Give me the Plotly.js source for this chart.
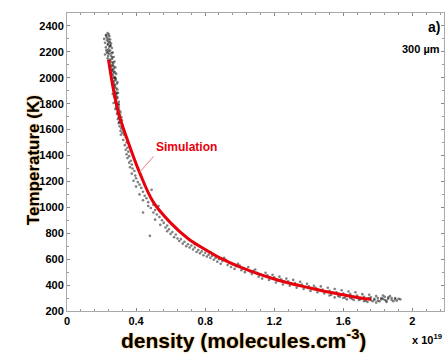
<!DOCTYPE html>
<html><head><meta charset="utf-8">
<script src="https://cdn.plot.ly/plotly-3.0.1.min.js"></script>
<style>html,body{margin:0;padding:0;overflow:hidden;background:#fff}</style>
</head><body><div id="chart"></div>
<script>
// Simulation curve (density x1e19, temperature K)
const simDensity = [0.24,0.27,0.30,0.35,0.42,0.50,0.60,0.70,0.80,0.90,1.00,1.10,1.20,1.30,1.40,1.50,1.60,1.70,1.76];
const simTemp    = [2140,1900,1720,1520,1270,1040,880,760,675,600,540,490,447,410,380,350,325,300,290];

// Experimental points [density, temperature]
const expPoints = [
[0.225,2330],[0.235,2345],[0.245,2320],[0.215,2300],[0.23,2310],[0.25,2295],[0.24,2280],[0.22,2270],[0.255,2265],[0.235,2255],
[0.245,2240],[0.225,2235],[0.26,2230],[0.24,2220],[0.25,2210],[0.23,2200],[0.265,2195],[0.245,2185],[0.22,2180],[0.255,2170],
[0.27,2160],[0.235,2150],[0.26,2145],[0.25,2130],[0.275,2125],[0.245,2110],[0.265,2100],[0.255,2085],[0.28,2080],[0.26,2065],
[0.27,2050],[0.25,2040],[0.285,2030],[0.265,2020],[0.275,2005],[0.26,1990],[0.28,1980],[0.27,1965],[0.29,1955],[0.265,1945],
[0.275,1930],[0.285,1920],[0.27,1905],[0.28,1895],[0.295,1885],[0.265,1875],[0.285,1860],[0.275,1850],[0.29,1840],[0.28,1825],
[0.30,1815],[0.27,1805],[0.29,1795],[0.285,1780],[0.30,1770],[0.28,1760],[0.295,1745],[0.31,1735],[0.29,1720],[0.30,1705],
[0.315,1695],[0.295,1680],[0.31,1665],[0.30,1650],[0.32,1640],[0.305,1625],[0.315,1610],[0.325,1600],[0.31,1590],[0.32,1575],
[0.24,2300],[0.25,2250],[0.235,2190],[0.26,2120],[0.27,2070],[0.28,2000],[0.275,1950],[0.29,1880],[0.28,1870],[0.30,1790],
[0.228,2325],[0.242,2335],[0.232,2290],[0.248,2275],[0.238,2262],[0.252,2245],[0.228,2215],[0.242,2205],[0.258,2190],[0.238,2168],
[0.262,2158],[0.248,2140],[0.268,2115],[0.258,2095],[0.27,2088],[0.262,2055],[0.278,2042],[0.268,2035],[0.272,1998],[0.282,1990],
[0.268,1975],[0.292,1968],[0.278,1940],[0.272,1915],[0.292,1910],[0.282,1880],[0.272,1860],[0.292,1850],[0.282,1812],[0.298,1800],
[0.288,1765],[0.302,1750],[0.292,1730],[0.308,1715],[0.298,1690],[0.318,1672],[0.302,1658],[0.322,1620],[0.312,1560],[0.33,1585],
[0.33,1560],[0.34,1540],[0.325,1520],[0.345,1500],[0.335,1480],[0.35,1460],[0.34,1445],[0.355,1430],[0.345,1410],[0.36,1395],
[0.35,1380],[0.37,1360],[0.36,1345],[0.375,1330],[0.365,1310],[0.38,1300],[0.39,1280],[0.375,1260],[0.395,1245],[0.40,1225],
[0.385,1205],[0.41,1195],[0.42,1175],[0.40,1160],[0.43,1150],[0.49,1135],[0.44,1120],[0.42,1100],[0.45,1090],[0.46,1070],
[0.44,1055],[0.47,1040],[0.50,1020],[0.47,1010],[0.485,995],[0.44,960],[0.51,980],[0.53,1010],[0.50,960],[0.52,945],
[0.535,925],[0.51,905],[0.55,900],[0.56,880],[0.54,865],[0.58,860],[0.57,845],[0.59,830],[0.58,815],[0.61,810],
[0.48,780],[0.60,795],[0.63,790],[0.62,770],[0.64,760],[0.66,755],[0.65,740],[0.68,735],[0.67,720],[0.70,715],
[0.69,700],[0.72,705],[0.71,690],[0.74,690],[0.73,675],[0.76,670],[0.75,655],[0.78,660],[0.77,645],[0.80,650],
[0.79,630],[0.82,635],[0.81,620],[0.84,625],[0.83,610],[0.86,610],[0.85,595],[0.88,600],[0.87,580],[0.90,585],
[0.92,595],[0.89,565],[0.94,570],[0.93,555],[0.96,560],[0.95,540],[0.98,545],[1.0,550],[0.97,525],[1.02,530],
[1.01,515],[1.04,520],[1.06,505],[1.03,500],[1.08,510],[1.10,495],[1.07,485],[1.12,480],[1.11,465],[1.14,470],
[1.16,475],[1.13,450],[1.18,455],[1.20,460],[1.17,440],[1.22,435],[1.24,445],[1.21,420],[1.26,425],[1.28,430],
[1.25,405],[1.30,410],[1.32,415],[1.29,395],[1.34,400],[1.36,405],[1.33,380],[1.38,385],[1.40,390],[1.37,370],
[1.42,372],[1.44,380],[1.41,355],[1.46,360],[1.48,365],[1.45,345],[1.50,350],[1.52,355],[1.49,335],[1.54,340],
[1.56,345],[1.53,325],[1.58,330],[1.60,335],[1.57,315],[1.62,320],[1.64,330],[1.61,305],[1.66,310],[1.68,320],
[1.65,295],[1.70,300],[1.72,310],[1.69,285],[1.74,295],[1.76,305],[1.73,280],[1.78,285],[1.80,300],[1.77,275],
[1.82,290],[1.84,310],[1.81,275],[1.86,295],[1.88,300],[1.85,280],[1.90,290],[1.92,295],[1.89,275],[1.87,315],
[1.83,320],[1.79,315],[1.75,325],[1.71,330],[1.67,345],[1.63,350],[1.59,360],[1.55,370],[1.51,380],[1.47,390],
[1.43,395],[1.39,410],[1.35,425],[1.31,440],[1.27,450],[1.23,465],[1.19,480],[1.15,495],[1.09,520],[1.05,540],
[0.99,565],[0.91,610],[0.83,655],[0.79,680],[0.74,715],
[1.60,300],[1.62,290],[1.66,285],[1.70,290],[1.72,275],[1.75,300],[1.78,295],[1.80,280],[1.82,300],[1.84,285],
[1.86,305],[1.88,285],[1.90,300],[1.91,280],[1.93,290],[1.85,270],[1.79,265],[1.83,295],[1.76,285],[1.74,270],
[1.68,305],[1.64,300],[1.58,310],[1.55,305],[1.52,320]
];
const expDensity = expPoints.map(p => p[0]);
const expTemp = expPoints.map(p => p[1]);

const xTickVals = [0,0.4,0.8,1.2,1.6,2];
const xTickText = ['0','0.4','0.8','1.2','1.6','2'];
const yTickVals = [200,400,600,800,1000,1200,1400,1600,1800,2000,2200,2400];

const FONT = 'Arial, Liberation Sans, sans-serif';
const traces = [
  {x: expDensity, y: expTemp, type: 'scatter', mode: 'markers',
   marker: {symbol: 'circle', size: 2.6, color: 'rgba(0,0,0,0.5)', line: {width: 0}},
   hoverinfo: 'skip', showlegend: false},
  {x: simDensity, y: simTemp, type: 'scatter', mode: 'lines',
   line: {color: '#e8000b', width: 3, shape: 'spline'}, showlegend: false}
];

const axisCommon = {
  showgrid: false, zeroline: false, showline: true, linecolor: '#aaaaaa', linewidth: 1,
  mirror: 'ticks', ticks: 'inside', ticklen: 3, tickcolor: '#888',
  tickfont: {family: FONT, size: 11, color: '#000', weight: 'bold'}
};

const layout = {
  width: 445, height: 356,
  margin: {l: 67, r: 1, t: 13, b: 44.5},
  paper_bgcolor: '#fff', plot_bgcolor: '#fff',
  xaxis: Object.assign({}, axisCommon, {range: [0, 2.183], tickvals: xTickVals, ticktext: xTickText,
    minor: {dtick: 0.08, ticks: 'inside', ticklen: 2, tickcolor: '#999'}}),
  yaxis: Object.assign({}, axisCommon, {range: [200, 2500], tickvals: yTickVals,
    minor: {dtick: 100, ticks: 'inside', ticklen: 2, tickcolor: '#999'}}),
  annotations: [
    {text: 'Temperature (K)', xref: 'paper', yref: 'paper', x: -0.119, y: 0.505, textangle: -90,
     showarrow: false, font: {family: FONT, size: 17, color: '#000', weight: 'bold', shadow: '0 0 2px #f0a030'}},
    {text: 'density (molecules.cm<sup>-3</sup>)', xref: 'paper', yref: 'paper', x: 0.467, y: -0.095, yanchor: 'middle',
     showarrow: false, font: {family: FONT, size: 21, color: '#000', weight: 'bold', shadow: '0 0 2px #f0a030'}},
    {text: 'x 10<sup>19</sup>', xref: 'paper', yref: 'paper', x: 1.0, y: -0.095, xanchor: 'right', yanchor: 'middle',
     showarrow: false, font: {family: FONT, size: 11, color: '#000', weight: 'bold'}},
    {text: 'a)', xref: 'paper', yref: 'paper', x: 0.995, y: 0.985, xanchor: 'right', yanchor: 'top',
     showarrow: false, font: {family: FONT, size: 14, color: '#000', weight: 'bold'}},
    {text: '300 µm', xref: 'paper', yref: 'paper', x: 0.995, y: 0.905, xanchor: 'right', yanchor: 'top',
     showarrow: false, font: {family: FONT, size: 11, color: '#000', weight: 'bold'}},
    {text: 'Simulation', x: 0.42, y: 1270, xref: 'x', yref: 'y', ax: 14, ay: -16, axref: 'pixel', ayref: 'pixel',
     xanchor: 'left', yanchor: 'bottom', showarrow: true, arrowhead: 0, arrowwidth: 1, arrowcolor: '#f08080',
     font: {family: FONT, size: 12, color: '#e8000b', weight: 'bold'}}
  ]
};

Plotly.newPlot('chart', traces, layout, {displayModeBar: false, staticPlot: true});
</script></body></html>
